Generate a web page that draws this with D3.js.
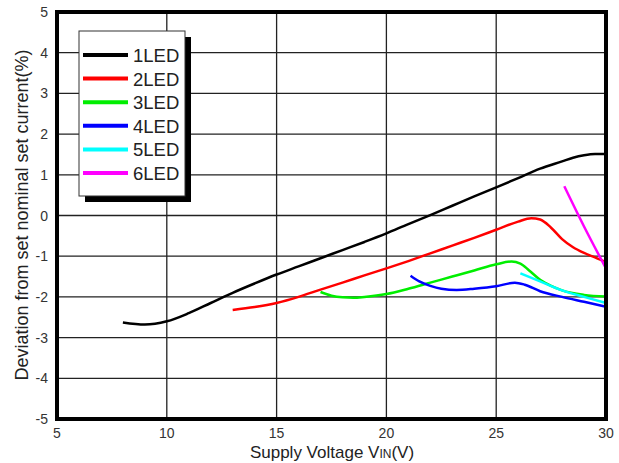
<!DOCTYPE html>
<html>
<head>
<meta charset="utf-8">
<script src="https://cdn.jsdelivr.net/npm/d3@7"></script>
<style>
  body { margin: 0; background: #fff; }
  text { font-family: "Liberation Sans", Arial, sans-serif; }
</style>
</head>
<body>
<div id="chart"></div>
<script>
var width = 619,
    height = 463;

var margin = {left: 57, right: 13, top: 12, bottom: 44};

// tick values
var xTicks = [5, 10, 15, 20, 25, 30];
var yTicks = [5, 4, 3, 2, 1, 0, -1, -2, -3, -4, -5];

// series: [supply voltage, deviation %]
var led1 = [[8,-2.63],[9,-2.68],[10,-2.6],[11,-2.4],[12,-2.15],[13,-1.9],[14,-1.67],[15,-1.45],[16,-1.25],[17,-1.05],[18,-0.85],[19,-0.65],[20,-0.44],[21,-0.21],[22,0.01],[23,0.24],[24,0.47],[25,0.69],[26,0.92],[27,1.15],[28,1.33],[28.5,1.42],[29,1.48],[29.5,1.51],[30,1.51]];
var led2 = [[13,-2.32],[14,-2.25],[15,-2.15],[16,-2.0],[17,-1.82],[18,-1.65],[19,-1.47],[20,-1.3],[21,-1.12],[22,-0.93],[23,-0.74],[24,-0.55],[25,-0.35],[26,-0.15],[26.6,-0.07],[27,-0.1],[27.5,-0.3],[28,-0.58],[28.5,-0.78],[29,-0.92],[29.5,-1.03],[30,-1.15]];
var led3 = [[17,-1.88],[17.5,-1.97],[18,-2.01],[18.5,-2.02],[19,-2.0],[20,-1.93],[21,-1.8],[22,-1.65],[23,-1.5],[24,-1.35],[25,-1.2],[25.7,-1.13],[26.1,-1.18],[26.5,-1.35],[27,-1.58],[27.5,-1.73],[28,-1.84],[29,-1.95],[30,-1.99]];
var led4 = [[21.1,-1.48],[21.5,-1.62],[22,-1.73],[22.5,-1.8],[23.2,-1.83],[24,-1.8],[25,-1.74],[25.85,-1.65],[26.3,-1.7],[27,-1.86],[28,-2.0],[29,-2.12],[30,-2.24]];
var led5 = [[26.1,-1.42],[27,-1.62],[28,-1.84],[29,-2.0],[30,-2.15]];
var led6 = [[28.1,0.72],[29,-0.27],[30,-1.3]];

var names = ["1LED", "2LED", "3LED", "4LED", "5LED", "6LED"];
var colors = ["#000000", "#ff0000", "#00ee00", "#0000ff", "#00ffff", "#ff00ff"];
var series = [led1, led2, led3, led4, led5, led6];

var x = d3.scaleLinear().domain([5, 30]).range([margin.left, width - margin.right]);
var y = d3.scaleLinear().domain([-5, 5]).range([height - margin.bottom, margin.top]);

var svg = d3.select("#chart").append("svg")
    .attr("width", width)
    .attr("height", height);

// grid
svg.append("g")
  .selectAll("line")
  .data(xTicks)
  .enter().append("line")
    .attr("x1", d => x(d)).attr("x2", d => x(d))
    .attr("y1", y(5)).attr("y2", y(-5))
    .style("stroke", "#222")
    .style("stroke-width", 1.3);

svg.append("g")
  .selectAll("line")
  .data(yTicks)
  .enter().append("line")
    .attr("x1", x(5)).attr("x2", x(30))
    .attr("y1", d => y(d)).attr("y2", d => y(d))
    .style("stroke", "#222")
    .style("stroke-width", 1.3);

// tick labels
svg.append("g")
  .selectAll("text")
  .data(xTicks)
  .enter().append("text")
    .attr("x", d => x(d))
    .attr("y", y(-5) + 19)
    .attr("text-anchor", "middle")
    .style("font-size", "14px")
    .style("fill", "#333")
    .text(d => d);

svg.append("g")
  .selectAll("text")
  .data(yTicks)
  .enter().append("text")
    .attr("x", x(5) - 9)
    .attr("y", d => y(d) + 5)
    .attr("text-anchor", "end")
    .style("font-size", "14px")
    .style("fill", "#333")
    .text(d => d);

// curves
var line = d3.line()
    .x(d => x(d[0]))
    .y(d => y(d[1]))
    .curve(d3.curveMonotoneX);

svg.append("g")
  .selectAll("path")
  .data(series)
  .enter().append("path")
    .attr("d", line)
    .style("fill", "none")
    .style("stroke", (d, i) => colors[i])
    .style("stroke-width", 2.5);

// frame
svg.append("rect")
    .attr("x", x(5)).attr("y", y(5))
    .attr("width", x(30) - x(5))
    .attr("height", y(-5) - y(5))
    .style("fill", "none")
    .style("stroke", "#000")
    .style("stroke-width", 4);

// legend
var lg = svg.append("g").attr("transform", "translate(79,31)");
lg.append("rect")
    .attr("x", 6).attr("y", 6)
    .attr("width", 106).attr("height", 165)
    .style("fill", "#000");
lg.append("rect")
    .attr("width", 106).attr("height", 165)
    .style("fill", "#fff")
    .style("stroke", "#333")
    .style("stroke-width", 1);

var rows = lg.selectAll("g")
  .data(names)
  .enter().append("g")
    .attr("transform", (d, i) => "translate(0," + (24 + i * 23.6) + ")");
rows.append("line")
    .attr("x1", 4).attr("x2", 49)
    .style("stroke", (d, i) => colors[i])
    .style("stroke-width", 4);
rows.append("text")
    .attr("x", 54)
    .attr("y", 7)
    .style("font-size", "18.5px")
    .style("fill", "#222")
    .text(d => d);

// axis titles
var xt = svg.append("text")
    .attr("x", 332)
    .attr("y", 458)
    .attr("text-anchor", "middle")
    .style("font-size", "17px")
    .style("fill", "#222");
xt.append("tspan").text("Supply Voltage V");
xt.append("tspan").style("font-size", "12px").text("IN");
xt.append("tspan").text("(V)");

svg.append("text")
    .attr("transform", "translate(28,215) rotate(-90)")
    .attr("text-anchor", "middle")
    .style("font-size", "18px")
    .style("fill", "#222")
    .text("Deviation from set nominal set current(%)");
</script>
</body>
</html>
